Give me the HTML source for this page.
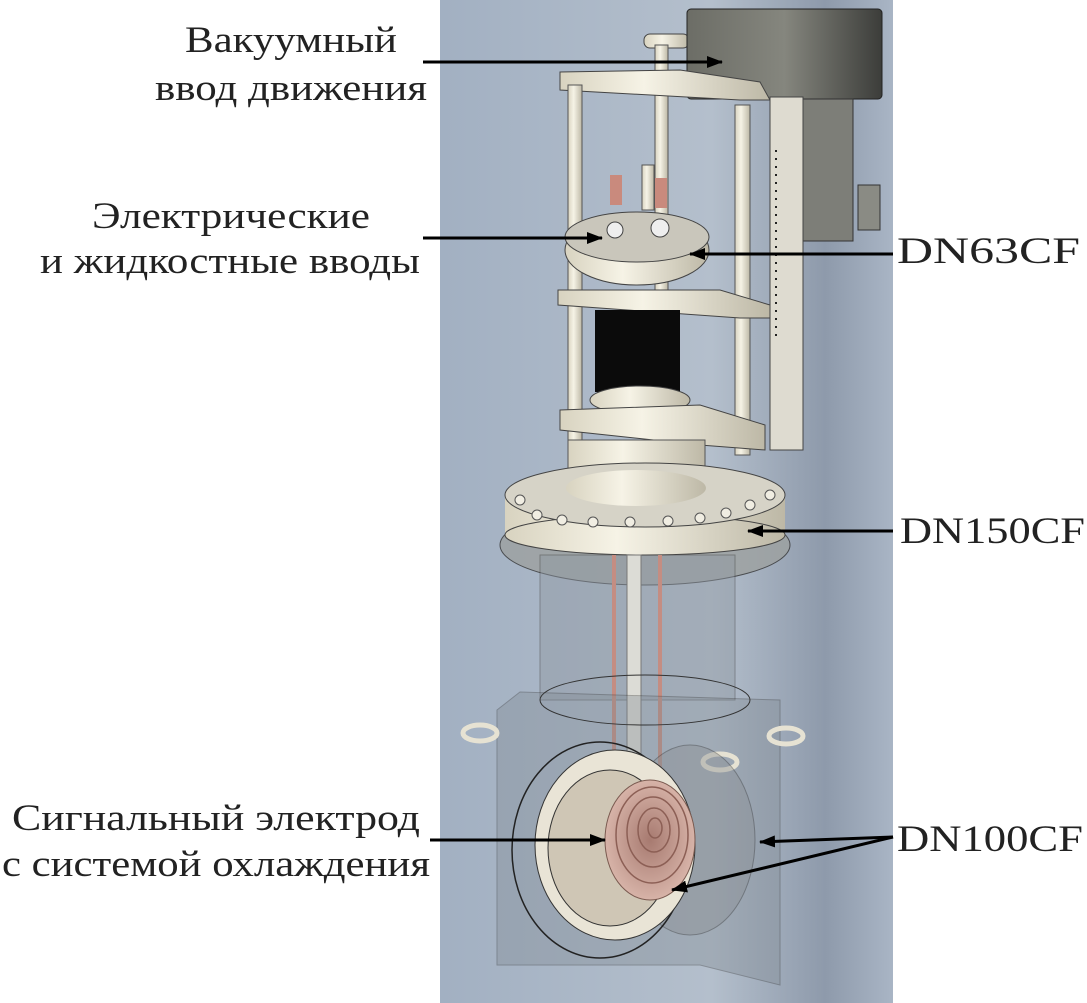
<!DOCTYPE html>
<html><head><meta charset="utf-8"><style>
body{margin:0;background:#fff}
svg{display:block}
text{font-family:"Liberation Serif",serif;font-size:37px;fill:#222}
</style></head><body>
<svg width="1087" height="1003" viewBox="0 0 1087 1003" xmlns="http://www.w3.org/2000/svg">
<defs>
<linearGradient id="bg" x1="0" y1="0" x2="1" y2="0">
<stop offset="0" stop-color="#a2b0c2"/><stop offset="0.6" stop-color="#b4bfcc"/><stop offset="0.85" stop-color="#8e9aab"/><stop offset="1" stop-color="#a9b5c5"/></linearGradient>
<linearGradient id="cream" x1="0" y1="0" x2="1" y2="0">
<stop offset="0" stop-color="#d8d3c0"/><stop offset="0.4" stop-color="#f6f3e6"/><stop offset="1" stop-color="#bdb8a6"/></linearGradient>
<linearGradient id="dark" x1="0" y1="0" x2="1" y2="0">
<stop offset="0" stop-color="#6c6d66"/><stop offset="0.5" stop-color="#85867e"/><stop offset="1" stop-color="#3c3d3a"/></linearGradient>
<radialGradient id="cu" cx="0.5" cy="0.5" r="0.5">
<stop offset="0" stop-color="#a77a70"/><stop offset="1" stop-color="#d7b3a8"/></radialGradient>
<marker id="ar" markerWidth="16" markerHeight="12" refX="15" refY="6" orient="auto" markerUnits="userSpaceOnUse"><path d="M0,0 L16,6 L0,12 Z" fill="#000"/></marker>
</defs>
<rect x="440" y="0" width="453" height="1003" fill="url(#bg)"/>
<rect x="644" y="34" width="45" height="14" rx="6" fill="url(#cream)" stroke="#444"/>
<rect x="655" y="45" width="13" height="300" fill="url(#cream)" stroke="#555"/>
<rect x="687" y="9" width="195" height="90" rx="4" fill="url(#dark)" stroke="#222"/>
<rect x="803" y="99" width="50" height="142" fill="#7d7e78" stroke="#333"/>
<rect x="858" y="185" width="22" height="45" fill="#8a8b84" stroke="#333"/>
<path d="M560,72 L680,70 L760,82 L770,100 L740,100 L560,90 Z" fill="url(#cream)" stroke="#444"/>
<rect x="568" y="85" width="14" height="400" fill="url(#cream)" stroke="#555"/>
<rect x="735" y="105" width="15" height="350" fill="url(#cream)" stroke="#555"/>
<rect x="770" y="97" width="33" height="353" fill="#dedbd0" stroke="#444"/>
<line x1="776" y1="150" x2="776" y2="340" stroke="#222" stroke-width="2" stroke-dasharray="2,6"/>
<rect x="610" y="175" width="12" height="30" fill="#c98a7d"/>
<rect x="655" y="178" width="12" height="30" fill="#c98a7d"/>
<rect x="642" y="165" width="12" height="45" fill="url(#cream)" stroke="#555"/>
<ellipse cx="637" cy="250" rx="72" ry="35" fill="url(#cream)" stroke="#444"/>
<ellipse cx="637" cy="237" rx="72" ry="25" fill="#c9c6bb" stroke="#444"/>
<circle cx="615" cy="230" r="8" fill="#eee" stroke="#444"/><circle cx="660" cy="228" r="9" fill="#eee" stroke="#444"/>
<path d="M558,290 L720,290 L770,305 L770,318 L740,318 L558,305 Z" fill="url(#cream)" stroke="#444"/>
<rect x="595" y="310" width="85" height="82" fill="#0b0b0b"/>
<ellipse cx="640" cy="400" rx="50" ry="14" fill="url(#cream)" stroke="#444"/>
<path d="M560,410 L700,405 L765,425 L765,450 L700,445 L560,430 Z" fill="url(#cream)" stroke="#444"/>
<rect x="568" y="440" width="137" height="55" fill="url(#cream)" stroke="#555"/>
<ellipse cx="645" cy="545" rx="145" ry="40" fill="#9da1a0" stroke="#333" opacity="0.8"/>
<rect x="505" y="495" width="280" height="40" fill="url(#cream)"/>
<ellipse cx="645" cy="535" rx="140" ry="20" fill="url(#cream)" stroke="#444"/>
<ellipse cx="645" cy="495" rx="140" ry="32" fill="#d6d3c7" stroke="#444"/>
<ellipse cx="636" cy="488" rx="70" ry="18" fill="url(#cream)"/>
<g fill="#f0ede2" stroke="#555">
<circle cx="520" cy="500" r="5"/><circle cx="537" cy="515" r="5"/><circle cx="562" cy="520" r="5"/><circle cx="593" cy="522" r="5"/><circle cx="630" cy="522" r="5"/><circle cx="668" cy="521" r="5"/><circle cx="700" cy="518" r="5"/><circle cx="726" cy="513" r="5"/><circle cx="750" cy="505" r="5"/><circle cx="770" cy="495" r="5"/>
</g>
<rect x="540" y="555" width="195" height="145" fill="#8f98a2" opacity="0.45" stroke="#444"/>
<line x1="614" y1="555" x2="614" y2="790" stroke="#c48d82" stroke-width="4"/>
<line x1="660" y1="555" x2="660" y2="790" stroke="#c48d82" stroke-width="4"/>
<rect x="627" y="555" width="14" height="240" fill="#dcdcd6" stroke="#777"/>
<path d="M497,710 L520,692 L780,700 L780,985 L700,965 L497,965 Z" fill="#7f8890" opacity="0.35" stroke="#333"/>
<ellipse cx="645" cy="700" rx="105" ry="25" fill="none" stroke="#333"/>
<ellipse cx="480" cy="733" rx="17" ry="8" fill="none" stroke="#e6e2d3" stroke-width="5"/>
<ellipse cx="786" cy="736" rx="17" ry="8" fill="none" stroke="#e6e2d3" stroke-width="5"/>
<ellipse cx="720" cy="762" rx="17" ry="8" fill="none" stroke="#e6e2d3" stroke-width="5"/>
<ellipse cx="690" cy="840" rx="65" ry="95" fill="#8a8e93" opacity="0.4" stroke="#333"/>
<ellipse cx="600" cy="850" rx="88" ry="108" fill="none" stroke="#222" stroke-width="1.5"/>
<ellipse cx="615" cy="845" rx="80" ry="95" fill="#e9e4d6" stroke="#333"/>
<ellipse cx="610" cy="848" rx="62" ry="78" fill="#cfc6b5" stroke="#333"/>
<ellipse cx="650" cy="840" rx="45" ry="60" fill="url(#cu)" stroke="#7a5a50"/>
<g fill="none" stroke="#8c5f55" stroke-width="1.5">
<ellipse cx="652" cy="835" rx="36" ry="48"/><ellipse cx="653" cy="832" rx="26" ry="35"/><ellipse cx="654" cy="830" rx="16" ry="22"/><ellipse cx="655" cy="828" rx="7" ry="10"/>
</g>
<text x="185" y="52" textLength="212" lengthAdjust="spacingAndGlyphs">Вакуумный</text>
<text x="155" y="100" textLength="272" lengthAdjust="spacingAndGlyphs">ввод движения</text>
<text x="92" y="228" textLength="278" lengthAdjust="spacingAndGlyphs">Электрические</text>
<text x="40" y="273" textLength="380" lengthAdjust="spacingAndGlyphs">и жидкостные вводы</text>
<text x="897" y="263" textLength="183" lengthAdjust="spacingAndGlyphs">DN63CF</text>
<text x="900" y="543" textLength="185" lengthAdjust="spacingAndGlyphs">DN150CF</text>
<text x="12" y="830" textLength="408" lengthAdjust="spacingAndGlyphs">Сигнальный электрод</text>
<text x="2" y="876" textLength="428" lengthAdjust="spacingAndGlyphs">с системой охлаждения</text>
<text x="897" y="851" textLength="186" lengthAdjust="spacingAndGlyphs">DN100CF</text>
<g stroke="#000" stroke-width="3" fill="none" marker-end="url(#ar)">
<line x1="423" y1="62" x2="722" y2="62"/>
<line x1="423" y1="238" x2="602" y2="238"/>
<line x1="893" y1="254" x2="690" y2="254"/>
<line x1="893" y1="531" x2="748" y2="531"/>
<line x1="430" y1="840" x2="605" y2="840"/>
<line x1="893" y1="837" x2="760" y2="842"/>
<line x1="893" y1="837" x2="672" y2="890"/>
</g>
</svg>
</body></html>
